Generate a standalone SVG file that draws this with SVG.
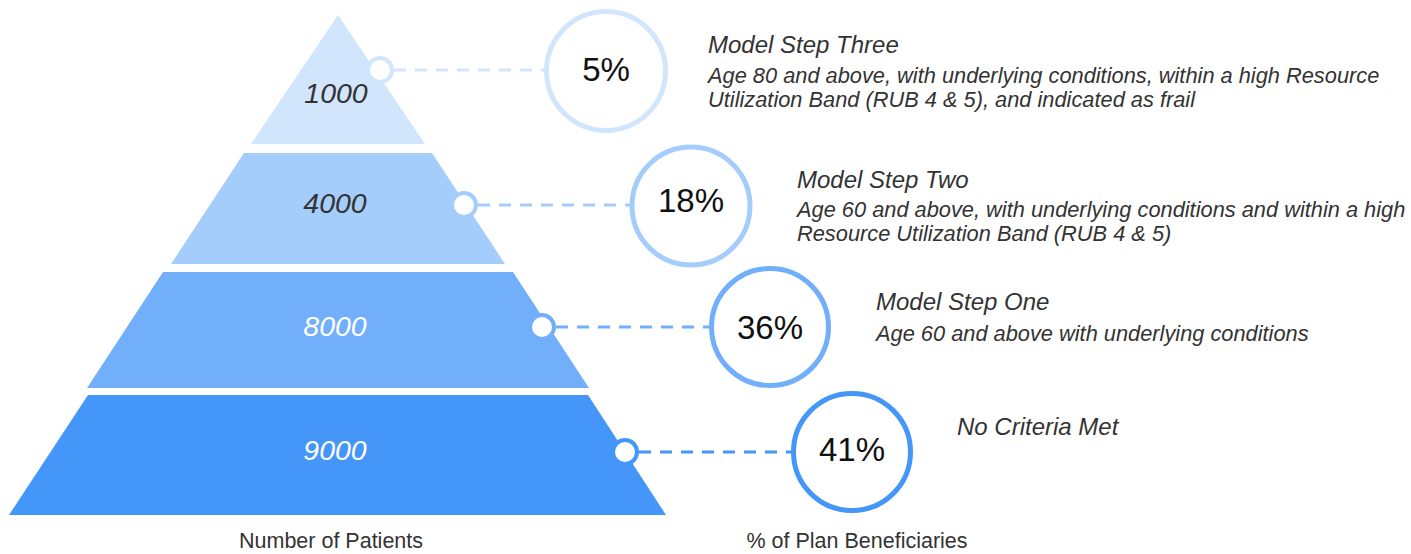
<svg xmlns="http://www.w3.org/2000/svg" width="1411" height="554" viewBox="0 0 1411 554">
  <style>
    .num { font-family: "Liberation Sans", Arial, sans-serif; font-style: italic; font-size: 28.5px; text-anchor: middle; }
    .pct { font-family: "Liberation Sans", Arial, sans-serif; font-size: 33px; fill: #111111; text-anchor: middle; }
    .title { font-family: "Liberation Sans", Arial, sans-serif; font-style: italic; font-size: 24px; fill: #333333; }
    .body { font-family: "Liberation Sans", Arial, sans-serif; font-style: italic; font-size: 21.8px; fill: #333333; }
    .axis { font-family: "Liberation Sans", Arial, sans-serif; font-size: 21.5px; fill: #333333; text-anchor: middle; }
    .dot { fill: #ffffff; stroke-width: 4; }
    .ring { fill: #ffffff; stroke-width: 5; }
    .dash { fill: none; stroke-width: 3; stroke-dasharray: 12 9; }
    .c1 { fill: #D1E6FD; } .s1 { stroke: #D1E6FD; }
    .c2 { fill: #A4CDFB; } .s2 { stroke: #A4CDFB; }
    .c3 { fill: #72AFFA; } .s3 { stroke: #72AFFA; }
    .c4 { fill: #4496F8; } .s4 { stroke: #4496F8; }
  </style>
  <rect width="1411" height="554" fill="#ffffff"/>

  <g id="connectors">
    <line class="dash s1" x1="394" y1="70" x2="546" y2="70"/>
    <line class="dash s2" x1="478" y1="205" x2="632" y2="205"/>
    <line class="dash s3" x1="556" y1="327" x2="712" y2="327"/>
    <line class="dash s4" x1="639" y1="452" x2="794" y2="452"/>
  </g>

  <g id="tier1">
    <polygon class="c1" points="338,15 425,144 251,144"/>
    <text class="num" x="336" y="103" fill="#333333">1000</text>
    <circle class="dot s1" cx="380" cy="70" r="12"/>
  </g>
  <g id="tier2">
    <polygon class="c2" points="244,153 432,153 505,264 171,264"/>
    <text class="num" x="335" y="213" fill="#333333">4000</text>
    <circle class="dot s2" cx="464" cy="205" r="12"/>
  </g>
  <g id="tier3">
    <polygon class="c3" points="163,272 513,272 589,388 87,388"/>
    <text class="num" x="335" y="336" fill="#ffffff">8000</text>
    <circle class="dot s3" cx="542" cy="327" r="12"/>
  </g>
  <g id="tier4">
    <polygon class="c4" points="88,395 588,395 666,515 9,515"/>
    <text class="num" x="335" y="460" fill="#ffffff">9000</text>
    <circle class="dot s4" cx="625" cy="452" r="12"/>
  </g>

  <g id="pct5">
    <circle class="ring s1" cx="606" cy="71" r="59.5"/>
    <text class="pct" x="606" y="81">5%</text>
  </g>
  <g id="pct18">
    <circle class="ring s2" cx="691" cy="206" r="59"/>
    <text class="pct" x="691" y="212">18%</text>
  </g>
  <g id="pct36">
    <circle class="ring s3" cx="770" cy="327" r="58.5"/>
    <text class="pct" x="770" y="339">36%</text>
  </g>
  <g id="pct41">
    <circle class="ring s4" cx="852" cy="452" r="58.5"/>
    <text class="pct" x="852" y="461">41%</text>
  </g>

  <g id="label-step3">
    <text class="title" x="708" y="53">Model Step Three</text>
    <text class="body" x="708" y="83">Age 80 and above, with underlying conditions, within a high Resource</text>
    <text class="body" x="708" y="107">Utilization Band (RUB 4 &amp; 5), and indicated as frail</text>
  </g>
  <g id="label-step2">
    <text class="title" x="797" y="188">Model Step Two</text>
    <text class="body" x="797" y="217">Age 60 and above, with underlying conditions and within a high</text>
    <text class="body" x="797" y="241">Resource Utilization Band (RUB 4 &amp; 5)</text>
  </g>
  <g id="label-step1">
    <text class="title" x="876" y="310">Model Step One</text>
    <text class="body" x="876" y="341">Age 60 and above with underlying conditions</text>
  </g>
  <g id="label-none">
    <text class="title" x="957" y="435">No Criteria Met</text>
  </g>

  <g id="axis-labels">
    <text class="axis" x="331" y="548">Number of Patients</text>
    <text class="axis" x="857" y="548">% of Plan Beneficiaries</text>
  </g>
</svg>
